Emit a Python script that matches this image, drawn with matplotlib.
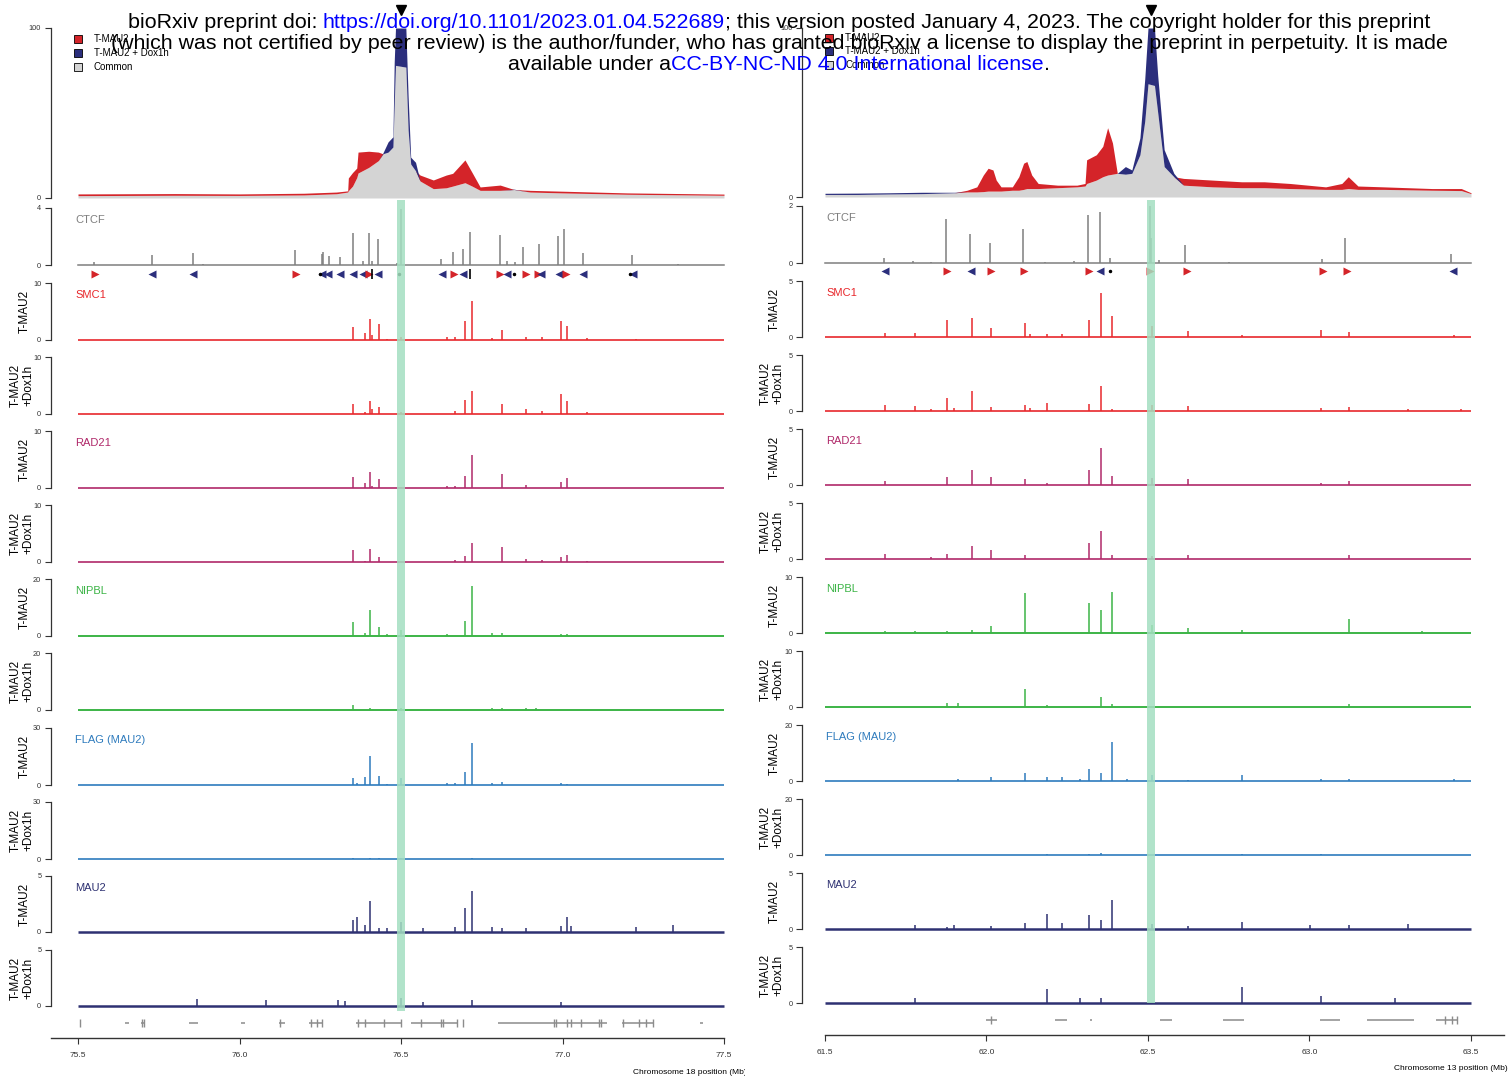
import numpy as np
import matplotlib
matplotlib.use('Agg')
import matplotlib.pyplot as plt
from matplotlib.patches import Rectangle
from matplotlib.transforms import Bbox, TransformedBbox

plt.rcParams['font.family'] = ['Liberation Sans', 'DejaVu Sans']

# ---------------- data: left locus (chr18) ----------------
c4_l_pos = [75.500, 75.800, 76.000, 76.200, 76.300, 76.335, 76.337, 76.350, 76.363, 76.367,
            76.400, 76.430, 76.444, 76.460, 76.475, 76.479, 76.483, 76.515, 76.522, 76.530,
            76.545, 76.559, 76.600, 76.640, 76.660, 76.698, 76.720, 76.745, 76.807, 76.850,
            76.900, 77.000, 77.200, 77.500]
c4_l_tmau2 = [2.4, 2.6, 2.4, 2.8, 3.5, 4.2, 11.8, 15.0, 17.6, 27.0,
              27.5, 27.0, 26.0, 27.0, 30.0, 55.0, 78.0, 77.0, 40.0, 20.0,
              16.0, 13.5, 10.6, 13.5, 14.5, 22.4, 15.0, 6.5, 7.6, 5.0,
              4.5, 4.0, 3.0, 2.3]
c4_l_dox = [1.4, 1.6, 1.5, 1.8, 2.5, 3.5, 4.3, 7.0, 12.0, 14.7,
            18.0, 22.0, 26.5, 33.0, 36.0, 80.0, 100.0, 100.0, 60.0, 24.0,
            21.0, 10.0, 5.5, 6.0, 7.0, 9.0, 7.0, 4.5, 4.5, 5.2,
            3.5, 3.0, 2.2, 1.6]

ctcf_l_pos = [75.550, 75.729, 75.856, 75.887, 76.172, 76.255, 76.259, 76.277, 76.311, 76.351,
              76.382, 76.401, 76.410, 76.429, 76.488, 76.500, 76.624, 76.661, 76.692, 76.714,
              76.807, 76.828, 76.853, 76.878, 76.927, 76.986, 77.005, 77.063, 77.215, 77.358]
ctcf_l_val = [0.19, 0.68, 0.82, 0.08, 1.08, 0.80, 0.89, 0.65, 0.54, 2.22,
              0.28, 2.27, 0.25, 1.85, 0.14, 3.90, 0.42, 0.91, 1.12, 2.34,
              2.08, 0.28, 0.21, 1.26, 1.47, 2.06, 2.50, 0.84, 0.68, 0.10]

motif_l_pos = [75.553, 75.729, 75.856, 76.175, 76.255, 76.274, 76.311, 76.351, 76.382, 76.401,
               76.429, 76.627, 76.664, 76.692, 76.807, 76.828, 76.886, 76.923, 76.933, 76.990,
               77.012, 77.063, 77.218]
motif_l_dir = [1, -1, -1, 1, -1, -1, -1, -1, -1, 1,
               -1, -1, 1, -1, 1, -1, 1, 1, -1, -1,
               1, -1, -1]
dots_l = [76.250, 76.494, 76.850, 77.210]
bars_l = [76.410, 76.714]

peak_l_pos = [75.868, 76.082, 76.306, 76.327, 76.352, 76.365, 76.389, 76.404, 76.410, 76.432,
              76.456, 76.500, 76.569, 76.641, 76.667, 76.697, 76.720, 76.782, 76.813, 76.887,
              76.918, 76.937, 76.995, 77.014, 77.025, 77.076, 77.228, 77.341]
smc1_l = [0, 0, 0, 0, 2.25, 0, 1.3, 3.6, 0.9, 2.8, 0.2, 0.5, 0, 0.6, 0.5, 3.3, 6.9, 0.3, 1.7, 0.5,
          0, 0.5, 3.4, 2.4, 0, 0.35, 0.2, 0]
smc1_dox_l = [0, 0, 0, 0, 1.8, 0, 0.4, 2.25, 0.9, 1.2, 0, 0.3, 0, 0, 0.6, 2.5, 4.1, 0, 1.8, 0.8,
              0, 0.5, 3.5, 2.2, 0, 0.3, 0, 0]
rad21_l = [0, 0, 0, 0, 2.0, 0, 0.8, 2.8, 0.4, 1.6, 0, 0.2, 0, 0.3, 0.4, 2.1, 5.8, 0, 2.5, 0.5,
           0, 0, 1.1, 1.7, 0, 0, 0, 0]
rad21_dox_l = [0, 0, 0, 0, 2.1, 0, 0.2, 2.2, 0, 0.8, 0, 0, 0, 0, 0.4, 1.1, 3.4, 0, 2.6, 0.5,
               0, 0.4, 0.95, 1.25, 0, 0.2, 0, 0]
nipbl_l = [0, 0, 0, 0, 5.0, 0, 1.2, 9.2, 0, 3.3, 0.7, 2.1, 0, 0.7, 0, 5.1, 17.5, 1.2, 0.9, 0,
           0, 0, 0.7, 0.7, 0, 0, 0, 0]
nipbl_dox_l = [0, 0, 0, 0, 1.65, 0, 0, 0.8, 0, 0, 0, 0.6, 0, 0, 0, 0, 0, 0.7, 0.6, 0.6,
               0.7, 0, 0, 0, 0, 0, 0, 0]
flag_l = [0, 0, 0, 0, 3.7, 0.9, 4.4, 15.5, 0, 4.8, 0.7, 3.9, 0, 0.9, 1.2, 6.6, 22.2, 1.0, 1.8, 0,
          0, 0, 0.9, 0.5, 0, 0, 0, 0]
flag_dox_l = [0, 0, 0, 0, 0.5, 0, 0, 0.3, 0, 0.3, 0, 0.5, 0, 0, 0, 0, 0.3, 0, 0, 0,
              0, 0, 0, 0, 0, 0, 0, 0]
mau2_l = [0, 0, 0, 0, 1.07, 1.36, 0.62, 2.8, 0, 0.4, 0.35, 0.92, 0.35, 0, 0.45, 2.16, 3.7, 0.45, 0.35, 0.4,
          0, 0, 0.55, 1.3, 0.5, 0, 0.45, 0.6]
mau2_dox_l = [0.6, 0.5, 0.53, 0.45, 0, 0, 0, 0, 0, 0, 0, 0.68, 0.35, 0, 0, 0, 0.5, 0, 0, 0,
              0, 0, 0.35, 0, 0, 0, 0, 0]

genes_l = [(75.506, 75.507), (75.646, 75.658), (75.695, 75.707), (75.844, 75.872), (76.005, 76.017),
           (76.122, 76.141), (76.175, 76.176), (76.215, 76.259), (76.361, 76.502), (76.531, 76.672),
           (76.693, 76.694), (76.799, 77.137), (77.184, 77.279), (77.426, 77.435)]
exons_l = [75.506, 75.699, 75.704, 76.125, 76.220, 76.240, 76.255, 76.366, 76.389, 76.446, 76.500,
           76.562, 76.624, 76.631, 76.672, 76.693, 76.975, 76.981, 77.015, 77.025, 77.056, 77.114,
           77.118, 77.188, 77.238, 77.260, 77.279]

# ---------------- data: right locus (chr13) ----------------
c4_r_pos = [61.50, 61.60, 61.70, 61.80, 61.90, 61.94, 61.97, 61.99, 62.005, 62.02,
            62.03, 62.045, 62.08, 62.10, 62.115, 62.125, 62.14, 62.16, 62.22, 62.28,
            62.305, 62.31, 62.34, 62.36, 62.375, 62.39, 62.405, 62.43, 62.45, 62.475,
            62.49, 62.50, 62.52, 62.53, 62.55, 62.58, 62.61, 62.70, 62.79, 62.86,
            62.94, 63.05, 63.10, 63.12, 63.15, 63.23, 63.38, 63.47, 63.50]
c4_r_tmau2 = [1.5, 1.5, 1.8, 2.0, 2.5, 4.0, 6.0, 13.0, 17.0, 16.0,
              10.0, 6.0, 6.0, 12.0, 20.0, 21.0, 13.0, 8.0, 7.0, 7.0,
              8.0, 22.0, 25.0, 30.0, 41.0, 32.0, 14.0, 13.5, 14.0, 25.0,
              45.0, 67.0, 66.0, 50.0, 18.0, 12.0, 11.0, 10.0, 9.0, 9.0,
              8.0, 6.0, 8.0, 12.0, 6.5, 6.0, 5.0, 5.0, 2.5]
c4_r_dox = [2.2, 2.3, 2.5, 2.8, 2.8, 3.0, 3.0, 3.2, 3.5, 3.5,
            3.5, 3.5, 4.0, 4.0, 4.5, 5.0, 5.0, 5.0, 5.5, 6.0,
            6.5, 8.0, 10.0, 12.0, 13.0, 13.5, 14.0, 18.0, 16.0, 35.0,
            70.0, 100.0, 100.0, 72.0, 28.0, 14.0, 7.0, 6.0, 5.5, 5.5,
            5.0, 4.5, 4.5, 5.0, 4.5, 4.5, 4.0, 3.8, 2.0]

ctcf_r_pos = [61.682, 61.771, 61.829, 61.875, 61.950, 62.011, 62.114, 62.180, 62.272, 62.313,
              62.350, 62.382, 62.505, 62.510, 62.534, 62.615, 62.751, 63.039, 63.111, 63.439]
ctcf_r_val = [0.19, 0.06, 0.05, 1.56, 1.01, 0.71, 1.20, 0.05, 0.07, 1.67,
              1.79, 0.18, 2.00, 0.86, 0.11, 0.63, 0.05, 0.13, 0.86, 0.32]

motif_r_pos = [61.685, 61.878, 61.952, 62.014, 62.116, 62.316, 62.350, 62.505, 62.621, 63.042,
               63.115, 63.444]
motif_r_dir = [-1, 1, -1, 1, 1, 1, -1, 1, 1, 1, 1, -1]
dots_r = [62.382]
bars_r = []

peak_r_pos = [61.686, 61.780, 61.829, 61.878, 61.898, 61.912, 61.954, 62.014, 62.119, 62.135,
              62.187, 62.235, 62.288, 62.318, 62.356, 62.388, 62.434, 62.512, 62.625, 62.792,
              63.000, 63.035, 63.122, 63.264, 63.305, 63.348, 63.447, 63.468]
smc1_r = [0.36, 0.36, 0, 1.55, 0, 0, 1.67, 0.8, 1.25, 0.3, 0.24, 0.24, 0, 1.55, 3.93, 1.88, 0, 1.0,
          0.57, 0.2, 0, 0.6, 0.42, 0, 0, 0, 0.15, 0]
smc1_dox_r = [0.54, 0.42, 0.2, 1.19, 0.27, 0, 1.79, 0.39, 0.57, 0.24, 0.71, 0, 0, 0.63, 2.2, 0.15, 0,
              0.54, 0.45, 0, 0, 0.3, 0.36, 0, 0.15, 0, 0, 0.18]
rad21_r = [0.33, 0, 0, 0.71, 0, 0, 1.34, 0.68, 0.57, 0, 0.15, 0, 0, 1.31, 3.3, 0.77, 0, 0.63,
           0.5, 0, 0, 0.2, 0.39, 0, 0, 0, 0, 0]
rad21_dox_r = [0.42, 0, 0.15, 0.48, 0, 0, 1.16, 0.83, 0.36, 0, 0, 0, 0, 1.4, 2.5, 0.33, 0, 0.3,
               0.36, 0, 0, 0, 0.39, 0, 0, 0, 0, 0]
nipbl_r = [0.3, 0.3, 0, 0.3, 0, 0, 0.54, 1.19, 7.1, 0, 0, 0, 0, 5.4, 4.05, 7.4, 0, 1.49,
           0.95, 0.48, 0, 0, 2.5, 0, 0, 0.36, 0, 0]
nipbl_dox_r = [0, 0, 0, 0.71, 0, 0.77, 0, 0, 3.15, 0, 0.42, 0, 0, 0, 1.73, 0.6, 0, 0,
               0, 0, 0, 0, 0.6, 0, 0, 0, 0, 0]
flag_r = [0, 0, 0, 0, 0, 0.6, 0, 1.55, 2.98, 0, 1.31, 1.55, 0.7, 4.4, 2.98, 13.9, 0.6, 2.14,
          0.36, 2.26, 0, 0.7, 0.6, 0, 0, 0, 0.7, 0]
flag_dox_r = [0, 0, 0, 0, 0, 0, 0, 0, 0, 0, 0.5, 0, 0, 0.5, 0.6, 0, 0, 0,
              0, 0.5, 0, 0.4, 0, 0, 0, 0, 0, 0]
mau2_r = [0, 0.39, 0, 0.18, 0.39, 0, 0, 0.24, 0.54, 0, 1.31, 0.54, 0, 1.25, 0.83, 2.62, 0, 0.48,
          0.27, 0.63, 0.33, 0, 0.33, 0, 0.42, 0, 0, 0]
mau2_dox_r = [0, 0.45, 0, 0, 0, 0, 0, 0, 0, 0, 1.28, 0, 0.42, 0, 0.45, 0, 0, 0,
              0, 1.4, 0, 0.63, 0, 0.45, 0, 0, 0, 0]

genes_r = [(61.998, 62.031), (62.211, 62.249), (62.319, 62.327), (62.538, 62.574), (62.731, 62.796),
           (63.032, 63.095), (63.178, 63.325), (63.393, 63.458)]
exons_r = [62.015, 63.420, 63.440, 63.458]

# ---------------- styling ----------------
RED4C, NAVY4C, GRAY4C = '#d42429', '#2b2e7c', '#d4d4d4'
COLS = {'CTCF': '#7f7f7f', 'SMC1': '#e8282c', 'RAD21': '#b0296a', 'NIPBL': '#3cb446',
        'FLAG': '#2e7bbd', 'MAU2': '#2e3172'}
AXC = '#333333'

W, H = 1512, 1084
fig = plt.figure(figsize=(W / 100, H / 100), dpi=100)


def px_axes(x0, y0, x1, y1):
    return fig.add_axes([x0 / W, 1 - y1 / H, (x1 - x0) / W, (y1 - y0) / H])


panels = [
    dict(x0=50.7, x1=724, xlim=(75.5 - 27.3 / 323, 77.5), start=75.5, end=77.5,
         tops=[28, 208, 283, 357, 431, 505, 579, 653, 728, 802, 876, 950],
         bots=[198, 265, 340, 414, 488, 562, 636, 710, 785, 859, 932, 1006],
         ymax=[100, 4, 10, 10, 10, 10, 20, 20, 30, 30, 5, 5],
         c4=(c4_l_pos, c4_l_tmau2, c4_l_dox), ctcf=(ctcf_l_pos, ctcf_l_val),
         motif=(motif_l_pos, motif_l_dir, dots_l, bars_l), motif_y=(267, 280),
         peaks=peak_l_pos,
         tracks=[smc1_l, smc1_dox_l, rad21_l, rad21_dox_l, nipbl_l, nipbl_dox_l,
                 flag_l, flag_dox_l, mau2_l, mau2_dox_l],
         genes=(genes_l, exons_l), gene_y=(1015, 1031), band=(76.488, 76.512), band_y=(200, 1011),
         vp=76.50, lab_x=75, ylab_x=25, leg_x=78, leg_y=[39, 53, 67],
         bx=(50.7, 724), bxlim=(75.5 - 27.3 / 323, 77.5), by=1038,
         bticks=[75.5, 76.0, 76.5, 77.0, 77.5]),
    dict(x0=802, x1=1473, xlim=(61.5 - 23 / 323, 63.5 + 2 / 323), start=61.5, end=63.5,
         tops=[28, 206, 281, 355, 429, 503, 577, 651, 725, 799, 873, 947],
         bots=[197, 263, 337, 411, 485, 559, 633, 707, 781, 855, 929, 1003],
         ymax=[100, 2, 5, 5, 5, 5, 10, 10, 20, 20, 5, 5],
         c4=(c4_r_pos, c4_r_tmau2, c4_r_dox), ctcf=(ctcf_r_pos, ctcf_r_val),
         motif=(motif_r_pos, motif_r_dir, dots_r, bars_r), motif_y=(265, 277),
         peaks=peak_r_pos,
         tracks=[smc1_r, smc1_dox_r, rad21_r, rad21_dox_r, nipbl_r, nipbl_dox_r,
                 flag_r, flag_dox_r, mau2_r, mau2_dox_r],
         genes=(genes_r, exons_r), gene_y=(1012, 1028), band=(62.497, 62.521), band_y=(200, 1003),
         vp=62.51, lab_x=826, ylab_x=775, leg_x=829, leg_y=[38, 51, 65],
         bx=(825, 1504), bxlim=(61.5, 61.5 + 679 / 323), by=1035,
         bticks=[61.5, 62.0, 62.5, 63.0, 63.5]),
]

track_names = ['SMC1', 'SMC1', 'RAD21', 'RAD21', 'NIPBL', 'NIPBL', 'FLAG', 'FLAG', 'MAU2', 'MAU2']
track_titles = {'SMC1': 'SMC1', 'RAD21': 'RAD21', 'NIPBL': 'NIPBL', 'FLAG': 'FLAG (MAU2)', 'MAU2': 'MAU2'}


def style_track(ax, P, ymax):
    ax.set_xlim(P['xlim'])
    ax.set_ylim(0, ymax)
    ax.patch.set_alpha(0)
    for s in ['top', 'right', 'bottom']:
        ax.spines[s].set_visible(False)
    ax.spines['left'].set_bounds(0, ymax)
    ax.spines['left'].set_color(AXC)
    ax.spines['left'].set_linewidth(0.9)
    ax.set_xticks([])
    ax.set_yticks([0, ymax])
    ax.set_yticklabels(['0', str(ymax)])
    ax.tick_params(axis='y', length=4.3, width=0.8, labelsize=5.3, pad=2.5, colors=AXC)


for P in panels:
    # 4C-like contact profile
    ax = px_axes(P['x0'], P['tops'][0], P['x1'], P['bots'][0])
    style_track(ax, P, 100)
    pos, tm, dx = (np.array(v) for v in P['c4'])
    common = np.minimum(tm, dx)
    ax.fill_between(pos, 0, common, color=GRAY4C, lw=0)
    ax.fill_between(pos, common, tm, color=RED4C, lw=0)
    ax.fill_between(pos, common, dx, color=NAVY4C, lw=0)
    ax.plot([P['vp']], [110.5], marker='v', color='black', ms=6.5, clip_on=False)
    for (lab, c), y in zip([('T-MAU2', RED4C), ('T-MAU2 + Dox1h', NAVY4C), ('Common', GRAY4C)],
                           P['leg_y']):
        fig.add_artist(Rectangle(((P['leg_x'] - 4) / W, 1 - (y + 4) / H), 8 / W, 8 / H,
                                 facecolor=c, edgecolor='black', lw=0.6,
                                 transform=fig.transFigure))
        fig.text((P['leg_x'] + 16) / W, 1 - y / H, lab, fontsize=7, va='center', ha='left')

    # CTCF
    ax = px_axes(P['x0'], P['tops'][1], P['x1'], P['bots'][1])
    style_track(ax, P, P['ymax'][1])
    ax.plot([P['start'], P['end']], [0, 0], color=COLS['CTCF'], lw=1.1, clip_on=False)
    ax.vlines(P['ctcf'][0], 0, P['ctcf'][1], color=COLS['CTCF'], lw=1.1, clip_on=False)
    fig.text(P['lab_x'] / W, 1 - (P['tops'][1] + 12) / H, 'CTCF', color=COLS['CTCF'],
             fontsize=8, va='center', ha='left')

    # CTCF motif orientation
    ax = px_axes(P['x0'], P['motif_y'][0], P['x1'], P['motif_y'][1])
    ax.set_xlim(P['xlim'])
    ax.set_ylim(0, 1)
    ax.axis('off')
    mpos, mdir, mdots, mbars = P['motif']
    for p, d in zip(mpos, mdir):
        ax.plot(p, 0.5, marker='>' if d > 0 else '<', color=RED4C if d > 0 else NAVY4C,
                ms=6, mec='none')
    ax.plot(mdots, [0.5] * len(mdots), ls='none', marker='.', color='black', ms=3)
    ax.plot(mbars, [0.5] * len(mbars), ls='none', marker='|', color='black', ms=7, mew=1.2)

    # ChIP signal tracks
    for k, (name, vals) in enumerate(zip(track_names, P['tracks'])):
        i = k + 2
        ymax = P['ymax'][i]
        ax = px_axes(P['x0'], P['tops'][i], P['x1'], P['bots'][i])
        style_track(ax, P, ymax)
        col = COLS[name]
        base_lw = 1.8 if name == 'MAU2' else (1.4 if name == 'NIPBL' else 1.2)
        ax.plot([P['start'], P['end']], [0, 0], color=col, lw=base_lw, clip_on=False,
                solid_capstyle='butt')
        ax.vlines(P['peaks'], 0, vals, color=col, lw=1.1, clip_on=False)
        mid = (P['tops'][i] + P['bots'][i]) / 2
        if k % 2 == 0:
            fig.text(P['lab_x'] / W, 1 - (P['tops'][i] + 12) / H, track_titles[name], color=col,
                     fontsize=8, va='center', ha='left')
            fig.text(P['ylab_x'] / W, 1 - mid / H, 'T-MAU2', rotation=90, fontsize=8.5,
                     va='center', ha='center')
        else:
            fig.text((P['ylab_x'] - 3) / W, 1 - mid / H, 'T-MAU2\n+Dox1h', rotation=90,
                     fontsize=8.5, va='center', ha='center', linespacing=1.0,
                     multialignment='center')

    # genes
    ax = px_axes(P['x0'], P['gene_y'][0], P['x1'], P['gene_y'][1])
    ax.set_xlim(P['xlim'])
    ax.set_ylim(0, 1)
    ax.axis('off')
    gsegs, gex = P['genes']
    for a, b in gsegs:
        ax.plot([a, b], [0.5, 0.5], color='#8c8c8c', lw=1.1, solid_capstyle='butt')
    ax.vlines(gex, 0.25, 0.75, color='#8c8c8c', lw=1.0)

    # highlighted viewpoint band
    ax = px_axes(P['x0'], P['band_y'][0], P['x1'], P['band_y'][1])
    ax.set_xlim(P['xlim'])
    ax.axis('off')
    ax.axvspan(P['band'][0], P['band'][1], color='#a4dfc1', alpha=0.85, lw=0)

    # genomic axis
    ax = px_axes(P['bx'][0], P['by'] - 30, P['bx'][1], P['by'])
    ax.set_xlim(P['bxlim'])
    ax.patch.set_alpha(0)
    for s in ['top', 'right', 'left']:
        ax.spines[s].set_visible(False)
    ax.spines['bottom'].set_color(AXC)
    ax.spines['bottom'].set_linewidth(1.0)
    ax.set_yticks([])
    ax.set_xticks(P['bticks'])
    ax.set_xticklabels(['%.1f' % t for t in P['bticks']])
    ax.tick_params(axis='x', length=4, width=0.8, labelsize=6, pad=6, colors=AXC)

# axis titles (left one cut at the panel edge as in the source)
t = fig.text(633 / W, 1 - 1073 / H, 'Chromosome 18 position (Mb)', fontsize=6, va='center',
             ha='left')
t.set_clip_box(TransformedBbox(Bbox([[0, 0], [745 / W, 1]]), fig.transFigure))
t.set_clip_on(True)
fig.text(1508 / W, 1 - 1069 / H, 'Chromosome 13 position (Mb)', fontsize=6, va='center',
         ha='right')

# bioRxiv header overlay
header = [
    [('bioRxiv preprint doi: ', 'black'), ('https://doi.org/10.1101/2023.01.04.522689', '#0000ff'),
     ('; this version posted January 4, 2023. The copyright holder for this preprint', 'black')],
    [('(which was not certified by peer review) is the author/funder, who has granted bioRxiv a '
      'license to display the preprint in perpetuity. It is made', 'black')],
    [('available under a', 'black'), ('CC-BY-NC-ND 4.0 International license', '#0000ff'),
     ('.', 'black')],
]
header_y = [22, 43.5, 65]
renderer = fig.canvas.get_renderer()
FS = 15.4


def text_width(s):
    tmp = fig.text(0, 0, 'x' + s + 'x', fontsize=FS)
    ref = fig.text(0, 0, 'xx', fontsize=FS)
    w = tmp.get_window_extent(renderer).width - ref.get_window_extent(renderer).width
    tmp.remove()
    ref.remove()
    return w


for parts, y in zip(header, header_y):
    widths = [text_width(s) for s, c in parts]
    x = 779 - sum(widths) / 2
    for (s, c), w in zip(parts, widths):
        fig.text(x / W, 1 - y / H, s, color=c, fontsize=FS, va='center', ha='left')
        x += w

fig.savefig('out.png', dpi=100)
